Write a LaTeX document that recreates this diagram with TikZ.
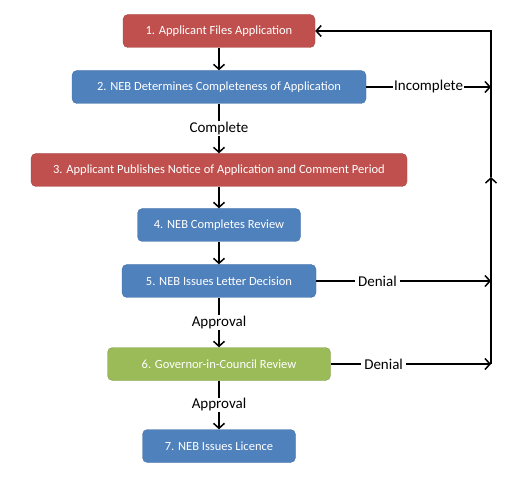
\documentclass[tikz,border=0pt]{standalone}
\usepackage{fontspec}
\setmainfont{Carlito}
\usetikzlibrary{arrows.meta}

\definecolor{stepred}{HTML}{C0504D}
\definecolor{stepblue}{HTML}{4F81BD}
\definecolor{stepgreen}{HTML}{9BBB59}

\tikzset{
  stepbox/.style={rounded corners=5pt, minimum height=33pt, inner sep=0pt,
    text=white, font=\fontsize{12.5}{15}\selectfont},
  redbox/.style={stepbox, fill=stepred, draw=stepred!85!black},
  bluebox/.style={stepbox, fill=stepblue, draw=stepblue!85!black},
  greenbox/.style={stepbox, fill=stepgreen, draw=stepgreen!85!black},
  flow/.style={line width=1.5pt, -{Straight Barb[length=5pt,width=11pt]}},
  answer/.style={fill=white, inner xsep=3pt, inner ysep=1pt,
    font=\fontsize{15}{18}\selectfont}
}

\begin{document}
\begin{tikzpicture}[x=1pt,y=-1pt]
\useasboundingbox (0,0) rectangle (530,478);

\draw (219,31)  node (1) [redbox, minimum width=192pt]   {1. Applicant Files Application};
\draw (219,87)  node (2) [bluebox, minimum width=294pt]  {2. NEB Determines Completeness of Application};
\draw (219,170) node (3) [redbox, minimum width=376pt]   {3. Applicant Publishes Notice of Application and Comment Period};
\draw (219,225) node (4) [bluebox, minimum width=163pt]  {4. NEB Completes Review};
\draw (219,281) node (5) [bluebox, minimum width=194pt]  {5. NEB Issues Letter Decision};
\draw (219,364) node (6) [greenbox, minimum width=223pt] {6. Governor-in-Council Review};
\draw (219,446) node (7) [bluebox, minimum width=153pt]  {7. NEB Issues Licence};

\draw (491,31)  coordinate (rtop);
\draw (491,177) coordinate (rmid);

\draw[flow] (1) -- (2);
\draw[flow] (2) -- node[answer] {Complete} (3);
\draw[flow] (3) -- (4);
\draw[flow] (4) -- (5);
\draw[flow] (5) -- node[answer] {Approval} (6);
\draw[flow] (6) -- node[answer] {Approval} (7);

\draw[flow] (2) -- node[answer, inner xsep=1pt] {Incomplete} (2 -| rtop);
\draw[flow] (5) -- node[answer, pos=0.35] {Denial} (5 -| rtop);
\draw[flow] (6) -- node[answer, pos=0.33] {Denial} (6 -| rtop);
\draw[flow] (6 -| rtop) -- (rmid);
\draw[flow] (rmid) -- (rtop) -- (1.east);

\end{tikzpicture}
\end{document}
